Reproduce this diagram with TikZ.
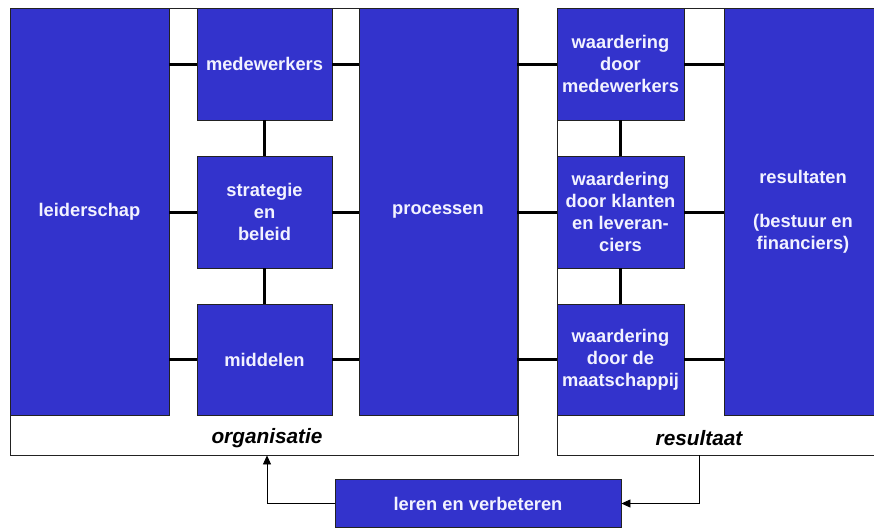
\documentclass[tikz,border=0pt]{standalone}
\usepackage{fontspec}
\setmainfont{Liberation Sans}
\usetikzlibrary{arrows.meta}
\definecolor{boxblue}{HTML}{3333CC}
\definecolor{boxtext}{HTML}{F2F2FF}
\definecolor{edge}{HTML}{222222}
\begin{document}
\begin{tikzpicture}[x=1pt,y=-1pt,
  bluebox/.style={fill=boxblue, draw=edge, line width=0.8pt, text=boxtext,
    font=\fontsize{18.3}{22}\selectfont\bfseries, align=center, inner sep=0pt, anchor=center},
  frame/.style={fill=white, draw=edge, line width=0.8pt, inner sep=0pt},
  conn/.style={line width=3pt, black},
  flow/.style={line width=0.8pt, black, -{Triangle[length=9pt,width=8pt]}},
  lbl/.style={font=\fontsize{20.8}{24}\selectfont\bfseries\itshape, text=black, inner sep=0pt}
]
\useasboundingbox (0,0) rectangle (874,527);
\clip (0,0) rectangle (874,527);
\fill[white] (0,0) rectangle (874,527);

% frames
\node[frame, minimum width=508pt, minimum height=447pt] (org) at (264,231.5) {};
\node[frame, minimum width=333pt, minimum height=447pt] (resf) at (723.5,231.5) {};
\node[lbl] (orglbl) at (267,438) {organisatie};
\node[lbl] (reslbl) at (699,438) {resultaat};

% boxes
\node[bluebox, minimum width=159pt, minimum height=407pt] (lead) at (89.5,211.5) {leiderschap};
\node[bluebox, minimum width=135pt, minimum height=112pt] (med) at (264.5,64) {medewerkers};
\node[bluebox, minimum width=135pt, minimum height=112pt] (strat) at (264.5,212) {strategie\\en\\beleid};
\node[bluebox, minimum width=135pt, minimum height=111pt] (mid) at (264.5,359.5) {middelen};
\node[bluebox, minimum width=158pt, minimum height=407pt] (proc) at (438,211.5) {processen};
\node[bluebox, minimum width=127pt, minimum height=112pt] (wm) at (620.5,64) {waardering\\door\\medewerkers};
\node[bluebox, minimum width=127pt, minimum height=112pt] (wk) at (620.5,212) {waardering\\door klanten\\en leveran-\\ciers};
\node[bluebox, minimum width=127pt, minimum height=111pt] (wmaat) at (620.5,359.5) {waardering\\door de\\maatschappij};
\node[bluebox, minimum width=158pt, minimum height=407pt] (res) at (803,211.5) {resultaten\\[22pt](bestuur en\\financiers)};
\node[bluebox, minimum width=286pt, minimum height=48pt] (leren) at (478,503.5) {leren en verbeteren};

% connectors left part
\draw[conn] (med.west) -- (med.west -| lead.east);
\draw[conn] (strat.west) -- (strat.west -| lead.east);
\draw[conn] (mid.west) -- (mid.west -| lead.east);
\draw[conn] (med.east) -- (med.east -| proc.west);
\draw[conn] (strat.east) -- (strat.east -| proc.west);
\draw[conn] (mid.east) -- (mid.east -| proc.west);
\draw[conn] (med.south) -- (strat.north);
\draw[conn] (strat.south) -- (mid.north);
% connectors right part
\draw[conn] (wm.west) -- (wm.west -| proc.east);
\draw[conn] (wk.west) -- (wk.west -| proc.east);
\draw[conn] (wmaat.west) -- (wmaat.west -| proc.east);
\draw[conn] (wm.east) -- (wm.east -| res.west);
\draw[conn] (wk.east) -- (wk.east -| res.west);
\draw[conn] (wmaat.east) -- (wmaat.east -| res.west);
\draw[conn] (wm.south) -- (wk.north);
\draw[conn] (wk.south) -- (wmaat.north);

% feedback arrows
\coordinate (orgin) at (orglbl.center |- org.south);
\coordinate (resout) at (reslbl.center |- resf.south);
\draw[flow] (leren.west) -| (orgin);
\draw[flow] (resout) |- (leren.east);
\end{tikzpicture}
\end{document}
